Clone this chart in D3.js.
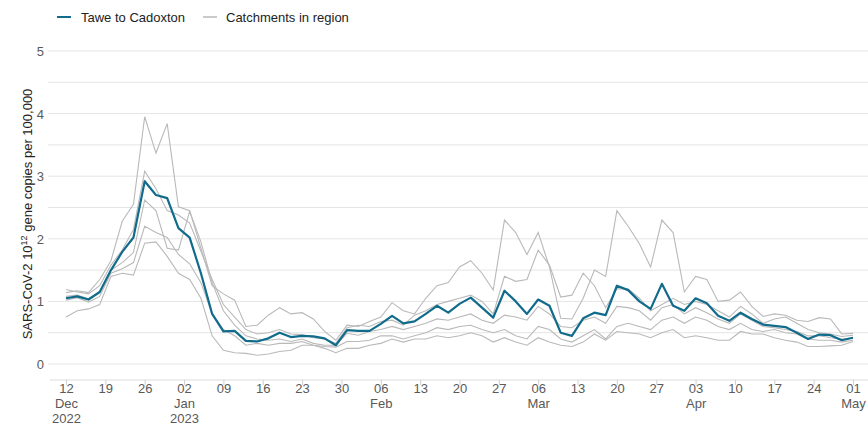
<!DOCTYPE html>
<html>
<head>
<meta charset="utf-8">
<script src="https://cdn.jsdelivr.net/npm/d3@7"></script>
<style>
    body { margin: 0; background: #fff; }
    text { font-family: "Liberation Sans", Arial, sans-serif; }
</style>
</head>
<body>
<svg id="chart" width="868" height="425"></svg>
<script>
// sample days, every 2 days from 12 Dec 2022 to 01 May 2023
let startDate = new Date(2022, 11, 12);
let dates = d3.range(0, 141, 2).map(d => d3.timeDay.offset(startDate, d));

let taweValues = [1.05, 1.08, 1.03, 1.15, 1.50, 1.79, 2.02, 2.92, 2.70, 2.65, 2.17, 2.02,
    1.45, 0.80, 0.52, 0.53, 0.37, 0.36, 0.41, 0.50, 0.43, 0.45, 0.44, 0.41, 0.30, 0.54,
    0.53, 0.53, 0.64, 0.77, 0.65, 0.68, 0.80, 0.93, 0.82, 0.96, 1.06, 0.90, 0.74, 1.17,
    1.00, 0.80, 1.03, 0.93, 0.50, 0.45, 0.73, 0.82, 0.78, 1.25, 1.18, 1.00, 0.88, 1.28,
    0.93, 0.85, 1.05, 0.97, 0.77, 0.69, 0.82, 0.72, 0.63, 0.61, 0.59, 0.50, 0.40, 0.47,
    0.46, 0.38, 0.42];

let catchA = [1.14, 1.17, 1.14, 1.35, 1.65, 2.28, 2.55, 3.95, 3.37, 3.84, 2.51, 2.45,
    1.85, 1.25, 1.12, 1.02, 0.60, 0.62, 0.78, 0.90, 0.80, 0.82, 0.72, 0.52, 0.38, 0.62,
    0.60, 0.68, 0.75, 0.98, 0.85, 0.80, 1.05, 1.25, 1.30, 1.55, 1.65, 1.45, 1.18, 2.30,
    2.10, 1.75, 2.10, 1.55, 0.73, 0.72, 1.05, 1.50, 1.40, 2.45, 2.20, 1.92, 1.55, 2.30,
    2.10, 1.15, 1.40, 1.35, 1.00, 1.02, 1.15, 0.92, 0.76, 0.80, 0.78, 0.70, 0.68, 0.74,
    0.72, 0.48, 0.49];
let catchB = [1.19, 1.15, 1.12, 1.25, 1.58, 1.82, 2.15, 3.08, 2.80, 2.45, 2.38, 2.25,
    1.80, 1.35, 0.95, 0.75, 0.55, 0.48, 0.50, 0.55, 0.48, 0.47, 0.42, 0.40, 0.33, 0.58,
    0.62, 0.60, 0.68, 0.70, 0.62, 0.78, 0.85, 0.95, 1.00, 1.05, 1.10, 1.00, 0.80, 1.40,
    1.32, 1.35, 1.82, 1.58, 1.07, 1.10, 1.45, 1.25, 0.90, 1.20, 1.20, 1.05, 0.85, 0.95,
    1.05, 0.95, 1.00, 0.95, 0.85, 0.75, 0.92, 0.80, 0.65, 0.72, 0.75, 0.65, 0.55, 0.50,
    0.48, 0.44, 0.46];
let catchC = [1.08, 1.10, 1.04, 1.15, 1.50, 1.62, 1.78, 2.62, 2.45, 1.85, 1.82, 2.44,
    1.95, 1.30, 0.85, 0.62, 0.45, 0.40, 0.38, 0.40, 0.36, 0.40, 0.33, 0.30, 0.30, 0.49,
    0.46, 0.52, 0.55, 0.60, 0.55, 0.60, 0.65, 0.72, 0.70, 0.75, 0.80, 0.70, 0.65, 0.78,
    0.75, 0.70, 0.92, 0.80, 0.60, 0.58, 0.70, 0.75, 0.65, 0.92, 0.90, 0.85, 0.70, 0.90,
    0.95, 0.80, 0.90, 0.82, 0.72, 0.65, 0.80, 0.70, 0.60, 0.58, 0.55, 0.52, 0.45, 0.45,
    0.42, 0.40, 0.42];
let catchD = [1.02, 1.06, 0.99, 1.08, 1.45, 1.52, 1.62, 2.20, 2.10, 2.02, 1.75, 1.60,
    1.30, 0.80, 0.55, 0.45, 0.30, 0.33, 0.30, 0.33, 0.33, 0.36, 0.30, 0.28, 0.27, 0.36,
    0.36, 0.38, 0.45, 0.45, 0.40, 0.45, 0.50, 0.58, 0.55, 0.60, 0.62, 0.55, 0.50, 0.55,
    0.45, 0.40, 0.60, 0.55, 0.40, 0.35, 0.45, 0.55, 0.40, 0.60, 0.65, 0.60, 0.55, 0.70,
    0.75, 0.65, 0.75, 0.70, 0.60, 0.55, 0.65, 0.55, 0.52, 0.55, 0.50, 0.48, 0.40, 0.38,
    0.38, 0.35, 0.38];
let catchE = [0.75, 0.85, 0.88, 0.95, 1.40, 1.45, 1.42, 1.93, 1.95, 1.72, 1.45, 1.35,
    1.05, 0.45, 0.22, 0.18, 0.17, 0.14, 0.16, 0.20, 0.22, 0.30, 0.30, 0.25, 0.18, 0.25,
    0.25, 0.30, 0.33, 0.40, 0.35, 0.40, 0.40, 0.45, 0.42, 0.45, 0.50, 0.45, 0.35, 0.42,
    0.35, 0.30, 0.42, 0.35, 0.30, 0.28, 0.35, 0.48, 0.38, 0.52, 0.50, 0.48, 0.42, 0.50,
    0.55, 0.42, 0.45, 0.42, 0.38, 0.38, 0.52, 0.48, 0.48, 0.42, 0.38, 0.35, 0.28, 0.28,
    0.29, 0.30, 0.36];
let catchments = [catchA, catchB, catchC, catchD, catchE];

let yTicks = [0, 1, 2, 3, 4, 5];
let yGrid = d3.range(0, 5.01, 0.5);
let xTickDates = d3.range(0, 141, 7).map(d => d3.timeDay.offset(startDate, d));

let svg = d3.select("#chart");

let x = d3.scaleTime()
    .domain([startDate, d3.timeDay.offset(startDate, 140)])
    .range([66, 853]);
let y = d3.scaleLinear().domain([0, 5]).range([364, 51]);

// grid
svg.append("g").selectAll("line").data(yGrid).enter().append("line")
    .attr("x1", 48).attr("x2", 868)
    .attr("y1", d => y(d)).attr("y2", d => y(d))
    .attr("stroke", "#e5e5e5").attr("stroke-width", 1);

// y axis labels
svg.append("g").selectAll("text").data(yTicks).enter().append("text")
    .attr("x", 44).attr("y", d => y(d) + 5)
    .attr("text-anchor", "end")
    .attr("font-size", 13).attr("fill", "#595959")
    .text(d => d);

let yTitle = svg.append("text")
    .attr("transform", "translate(32,214) rotate(-90)")
    .attr("text-anchor", "middle")
    .attr("font-size", 13).attr("fill", "#222");
yTitle.append("tspan").text("SARS-CoV-2 10");
yTitle.append("tspan").attr("font-size", 9).attr("dy", -5).text("12");
yTitle.append("tspan").attr("dy", 5).text(" gene copies per 100,000");

// x axis
let xAxis = d3.axisBottom(x)
    .tickValues(xTickDates)
    .tickSize(5)
    .tickFormat(d3.timeFormat("%d"));
let xg = svg.append("g").attr("transform", "translate(0,380)").call(xAxis);
xg.select(".domain").attr("d", "M50,0H868").attr("stroke", "#dcdcdc");
xg.selectAll(".tick line").attr("stroke", "#cfcfcf");
xg.selectAll(".tick text")
    .attr("font-family", "Liberation Sans, Arial, sans-serif")
    .attr("font-size", 13).attr("fill", "#595959")
    .attr("y", 4).attr("dy", "0.71em")
    .each(function (d) {
        let t = d3.select(this);
        let extra = [];
        if (d.getDate() <= 7 || d.getTime() === startDate.getTime()) extra.push(d3.timeFormat("%b")(d));
        if (d.getTime() === startDate.getTime() || (d.getMonth() === 0 && d.getDate() <= 7)) extra.push(d.getFullYear());
        extra.forEach(s => {
            t.append("tspan").attr("x", 0).attr("dy", "1.15em").text(s);
        });
    });

// lines
let line = d3.line()
    .x((d, i) => x(dates[i]))
    .y(d => y(d));

svg.append("g").selectAll("path").data(catchments).enter().append("path")
    .attr("d", line)
    .attr("fill", "none")
    .attr("stroke", "#b9b9b9")
    .attr("stroke-width", 1.1);

svg.append("path")
    .attr("d", line(taweValues))
    .attr("fill", "none")
    .attr("stroke", "#116b8b")
    .attr("stroke-width", 2.2)
    .attr("stroke-linejoin", "round");

// legend
let legend = svg.append("g");
legend.append("line").attr("x1", 57).attr("x2", 71).attr("y1", 17).attr("y2", 17)
    .attr("stroke", "#116b8b").attr("stroke-width", 2);
legend.append("text").attr("x", 81).attr("y", 22).attr("font-size", 13).attr("fill", "#222")
    .text("Tawe to Cadoxton");
legend.append("line").attr("x1", 203).attr("x2", 217).attr("y1", 17).attr("y2", 17)
    .attr("stroke", "#b9b9b9").attr("stroke-width", 1.5);
legend.append("text").attr("x", 226).attr("y", 22).attr("font-size", 13).attr("fill", "#222")
    .text("Catchments in region");
</script>
</body>
</html>
